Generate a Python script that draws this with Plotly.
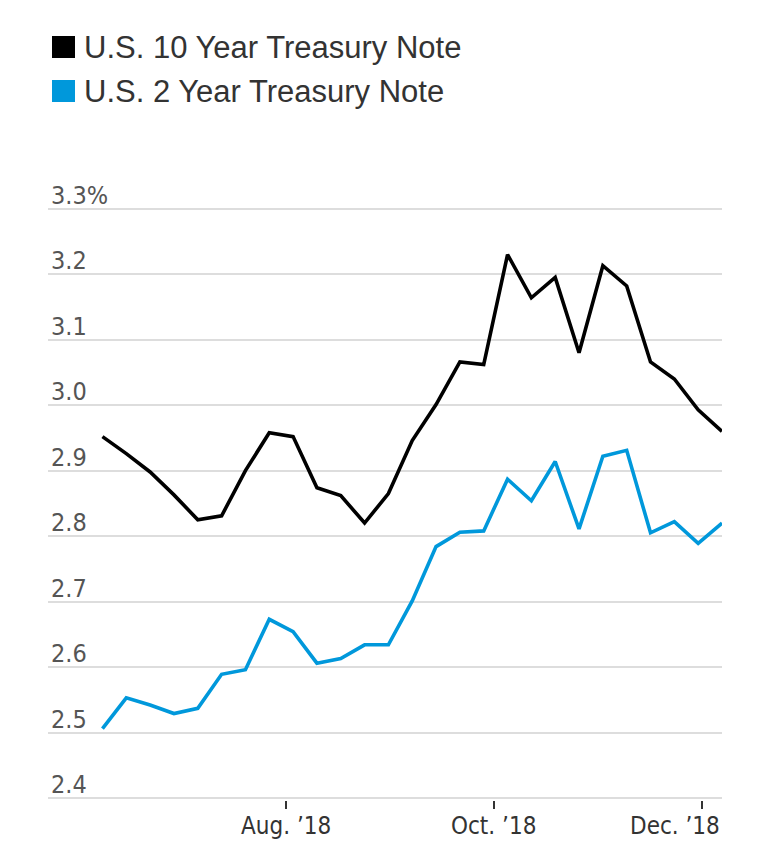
import plotly.graph_objects as go
import pandas as pd

dates = list(pd.date_range("2018-06-08", periods=27, freq="7D"))

ten_year = [2.952, 2.926, 2.898, 2.863, 2.825, 2.831, 2.900, 2.958, 2.952, 2.874,
            2.862, 2.820, 2.865, 2.946, 3.001, 3.066, 3.062, 3.230, 3.164, 3.195,
            3.080, 3.213, 3.182, 3.066, 3.040, 2.993, 2.960]

two_year = [2.506, 2.553, 2.542, 2.529, 2.537, 2.589, 2.596, 2.673, 2.654, 2.606,
            2.613, 2.634, 2.634, 2.701, 2.784, 2.806, 2.808, 2.887, 2.854, 2.914,
            2.811, 2.922, 2.931, 2.805, 2.822, 2.789, 2.820]

series_names = ["U.S. 10 Year Treasury Note", "U.S. 2 Year Treasury Note"]
series_colors = ["#000000", "#0098db"]

y_tick_vals = [2.4, 2.5, 2.6, 2.7, 2.8, 2.9, 3.0, 3.1, 3.2, 3.3]
y_tick_text = ["2.4", "2.5", "2.6", "2.7", "2.8", "2.9", "3.0", "3.1", "3.2", "3.3%"]

x_tick_vals = ["2018-08-01", "2018-10-01", "2018-12-01"]
x_tick_text = ["Aug. ’18", "Oct. ’18", "Dec. ’18"]

AXIS_FONT = "DejaVu Sans Condensed, Liberation Sans Narrow, Roboto, sans-serif"
LEG_FONT = "Liberation Sans, Noto Sans, sans-serif"

# The page body adds an 8px offset; figure is sized to fit the window.
W, H = 757, 854
L, R, T, B = 40, 43, 168, 62
PW, PH = W - L - R, H - T - B


def px(x_page):
    return (x_page - 8 - L) / PW


def py(y_page):
    return (H - B - (y_page - 8)) / PH


fig = go.Figure()
for name, vals, col in zip(series_names, [ten_year, two_year], series_colors):
    fig.add_trace(go.Scatter(x=dates, y=vals, mode="lines", name=name,
                             line=dict(color=col, width=3.6), showlegend=False,
                             hoverinfo="x+y"))

# Legend: squares and labels
for i, (name, col) in enumerate(zip(series_names, series_colors)):
    y_top = 36 + i * 44
    fig.add_shape(type="rect", xref="paper", yref="paper",
                  x0=px(52), x1=px(75), y0=py(y_top + 22), y1=py(y_top),
                  fillcolor=col, line=dict(width=0))
    fig.add_annotation(text=name, xref="paper", yref="paper",
                       x=px(82), y=py(y_top + 11),
                       xanchor="left", yanchor="middle", showarrow=False,
                       font=dict(family=LEG_FONT, size=31, color="#333333"))

# x tick labels
for i, (tv, tt) in enumerate(zip(x_tick_vals, x_tick_text)):
    last = i == len(x_tick_vals) - 1
    fig.add_annotation(text=tt, xref="x", yref="paper",
                       x=dates[-1] if last else tv, y=py(826),
                       xanchor="right" if last else "center",
                       yanchor="middle", showarrow=False,
                       font=dict(family=AXIS_FONT, size=24, color="#333333"))

fig.update_layout(
    width=W, height=H,
    margin=dict(l=L, r=R, t=T, b=B, autoexpand=False),
    paper_bgcolor="white", plot_bgcolor="white",
    showlegend=False,
    xaxis=dict(type="date", range=["2018-05-23", "2018-12-07"],
               tickvals=x_tick_vals, ticktext=x_tick_text, showticklabels=False,
               ticks="outside", ticklen=8, tickwidth=2, tickcolor="#333333",
               showgrid=False, zeroline=False, showline=False),
    yaxis=dict(range=[2.397, 3.35], tickvals=y_tick_vals, ticktext=y_tick_text,
               ticklabelposition="inside top", ticklabelshift=4, ticks="",
               showline=False, gridcolor="#dddddd", gridwidth=2, zeroline=False,
               tickfont=dict(family=AXIS_FONT, size=25, color="#555555")),
)

fig.write_html("out.html")
